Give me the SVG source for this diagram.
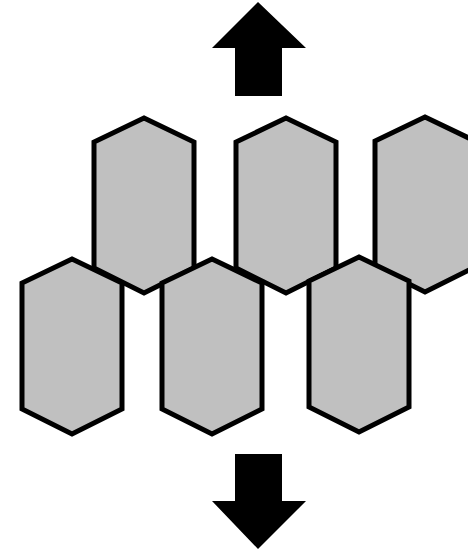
<svg xmlns="http://www.w3.org/2000/svg" width="468" height="551" viewBox="0 0 468 551">
<defs>
<style>
.hex{fill:#c0c0c0;stroke:#000;stroke-width:5;stroke-linejoin:miter}
.arrow{fill:#000;stroke:none}
</style>
<polygon id="hexshape" class="hex" points="0,0 50,24 50,150 0,175 -50,150 -50,24"/>
</defs>
<rect width="468" height="551" fill="#fff"/>
<g id="connectors">
<polygon class="arrow" points="258,2 306,48 282,48 282,96 235,96 235,48 212,48"/>
<polygon class="arrow" points="235,454 282,454 282,501 306,501 258,549 212,501 235,501"/>
</g>
<g id="hexA"><use href="#hexshape" x="144" y="118"/></g>
<g id="hexB"><use href="#hexshape" x="286" y="118"/></g>
<g id="hexC"><use href="#hexshape" x="425" y="117"/></g>
<g id="hexD"><use href="#hexshape" x="72" y="259"/></g>
<g id="hexE"><use href="#hexshape" x="212" y="259"/></g>
<g id="hexF"><use href="#hexshape" x="359" y="257"/></g>
</svg>
